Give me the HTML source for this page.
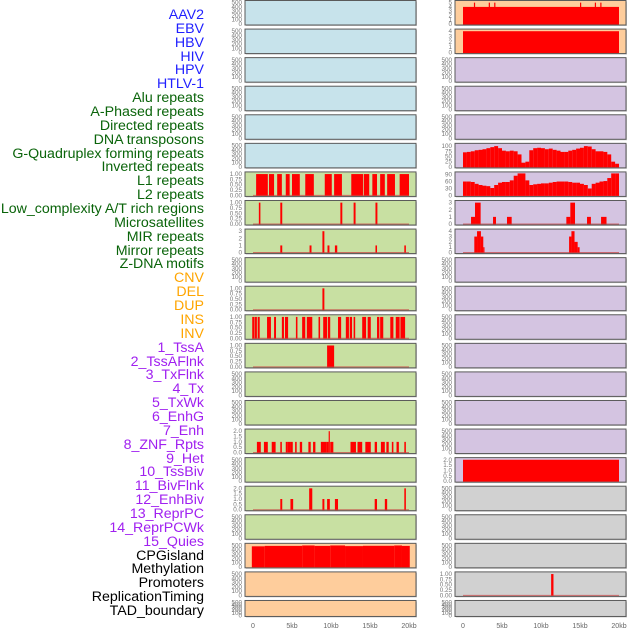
<!DOCTYPE html>
<html><head><meta charset="utf-8">
<style>
body{margin:0;background:#fff;width:630px;height:630px;overflow:hidden;font-family:"Liberation Sans",sans-serif;}
#labels{position:absolute;left:0;top:0;width:204px;}
.lab{position:absolute;right:0;font-size:14.2px;line-height:14px;white-space:nowrap;text-align:right;}
svg{position:absolute;left:0;top:0;}
</style></head><body>
<div id="labels"></div>
<svg id="chart" width="630" height="630"></svg>
<script>
const trackNames=["AAV2","EBV","HBV","HIV","HPV","HTLV-1","Alu repeats","A-Phased repeats","Directed repeats","DNA transposons","G-Quadruplex forming repeats","Inverted repeats","L1 repeats","L2 repeats","Low_complexity A/T rich regions","Microsatellites","MIR repeats","Mirror repeats","Z-DNA motifs","CNV","DEL","DUP","INS","INV","1_TssA","2_TssAFlnk","3_TxFlnk","4_Tx","5_TxWk","6_EnhG","7_Enh","8_ZNF_Rpts","9_Het","10_TssBiv","11_BivFlnk","12_EnhBiv","13_ReprPC","14_ReprPCWk","15_Quies","CPGisland","Methylation","Promoters","ReplicationTiming","TAD_boundary"];
const trackColors=["#1f1fff","#1f1fff","#1f1fff","#1f1fff","#1f1fff","#1f1fff","#0a640a","#0a640a","#0a640a","#0a640a","#0a640a","#0a640a","#0a640a","#0a640a","#0a640a","#0a640a","#0a640a","#0a640a","#0a640a","#ffa500","#ffa500","#ffa500","#ffa500","#ffa500","#a020f0","#a020f0","#a020f0","#a020f0","#a020f0","#a020f0","#a020f0","#a020f0","#a020f0","#a020f0","#a020f0","#a020f0","#a020f0","#a020f0","#a020f0","#000","#000","#000","#000","#000"];
const xTicks=[0,5,10,15,20];
const xTickLabels=["0","5kb","10kb","15kb","20kb"];
// segments [startKb, endKb, value]
const leftL1=[[0.4,1.9,1],[2.05,2.7,1],[3.1,3.7,1],[4.2,4.7,1],[5.0,6.0,1],[6.7,7.8,1],[9.2,10.1,1],[10.4,11.4,1],[12.6,14.1,1],[14.2,14.9,1],[15.3,15.9,1],[16.3,16.9,1],[17.2,18.2,1],[18.8,20,1]];
const leftLowComplex=[[0.75,0.95,1],[3.5,3.75,1],[11.2,11.45,1],[12.9,13.15,1],[15.7,15.95,1]];
const leftMicro=[[3.5,3.75,1],[7.25,7.5,1],[8.9,9.15,3],[9.55,9.8,1],[10.5,10.8,1],[15.7,15.9,1],[19.4,19.6,1]];
const leftDEL=[[8.9,9.15,1]];
const leftINS=[[-0.1,0.2,1],[0.25,0.5,1],[0.6,0.86,1],[1.8,2.3,1],[2.7,2.95,1],[3.7,3.97,1],[4.1,4.5,1],[5.5,5.7,1],[6.3,6.7,1],[6.9,7.6,1],[8.4,8.6,1],[9.0,9.5,1],[9.6,9.9,1],[10.9,11.3,1],[11.9,12.3,1],[12.4,12.7,1],[12.9,13.1,1],[14.0,14.5,1],[14.7,15.1,1],[15.9,16.2,1],[16.3,16.7,1],[17.6,18.0,1],[18.3,18.8,1],[18.9,19.5,1]];
const leftINV=[[9.5,10.4,1]];
const leftZNF=[[0.5,1.0,1],[1.4,1.9,1],[2.4,2.9,1],[3.5,3.7,1],[4.2,4.4,1],[4.4,4.8,1],[4.8,5.1,1],[5.4,5.6,1],[6.0,6.3,1],[7.1,7.4,1],[7.7,8.0,1],[8.7,9.4,1],[9.4,9.7,1],[9.7,9.85,2],[9.9,10.3,1],[12.5,13.2,1],[13.4,14.0,1],[14.4,15.1,1],[15.6,15.9,1],[16.4,16.9,1],[17.1,17.4,1],[17.8,18.0,1],[18.4,18.7,1],[19.4,19.6,1]];
const leftBiv=[[3.5,3.75,1],[4.8,5.15,1],[7.2,7.6,2],[8.9,9.15,1],[9.5,9.85,1],[10.5,10.9,1],[15.6,15.9,1],[16.9,17.2,1],[19.4,19.6,2]];
const leftCpG=[[-0.15,1.5,480],[1.5,6.3,490],[6.3,7.9,500],[7.9,9.9,490],[9.9,11.8,500],[11.8,14.1,485],[14.1,18.1,492],[18.1,19.1,500],[19.1,20.1,490]];
const rightAAV2=[[0,20,4],[1.4,1.55,5],[3.3,3.45,5],[4.0,4.15,5],[15.0,15.15,5],[16.9,17.05,5],[17.6,17.75,5]];
const rightEBV=[[0,20,4]];
const rightGquadBins=[70,72,75,80,82,85,90,95,100,90,78,75,78,75,60,20,25,80,90,92,90,85,88,82,78,72,72,78,82,88,92,100,98,85,75,75,72,60,25,15];
const rightL2Bins=[60,60,58,50,45,42,40,32,45,55,58,58,65,85,110,105,65,45,48,50,52,52,55,58,60,60,60,58,55,55,50,45,30,50,55,60,62,75,110,110];
const rightLowComplex=[[1.03,1.54,1],[1.54,2.26,3],[3.85,4.23,1],[5.64,6.24,1],[13.25,13.76,1],[13.76,14.36,3],[15.9,16.4,1],[17.7,18.4,1]];
const rightMicro=[[1.45,1.8,3],[1.8,2.3,4],[2.3,2.6,3],[2.6,2.75,1],[13.6,13.9,3],[13.9,14.3,4],[14.3,14.7,2],[14.7,14.95,1]];
const rightTssBiv=[[0,20,2]];
const rightPromoter=[[11.3,11.6,1]];

const T500=[0,100,200,300,400,500],T1=[0,0.25,0.5,0.75,1],T2=[0,0.5,1,1.5,2],T3=[0,1,2,3],T4=[0,1,2,3,4],T5=[0,1,2,3,4,5];
const BLUE="#c7e3eb",GREEN="#c8e0a2",ORANGE="#fecd9c",PURPLE="#d4c4e1",GRAY="#d1d1d1";
function bins(a){return a.map((v,i)=>[i*0.5,i*0.5+0.5,v]);}
const leftPanels=[];
for(let i=0;i<6;i++)leftPanels.push({bg:BLUE,t:T500});
leftPanels.push({bg:GREEN,t:T1,d:leftL1});
leftPanels.push({bg:GREEN,t:T1,d:leftLowComplex});
leftPanels.push({bg:GREEN,t:T3,d:leftMicro});
leftPanels.push({bg:GREEN,t:T500});
leftPanels.push({bg:GREEN,t:T1,d:leftDEL});
leftPanels.push({bg:GREEN,t:T1,d:leftINS});
leftPanels.push({bg:GREEN,t:T1,d:leftINV});
leftPanels.push({bg:GREEN,t:T500});leftPanels.push({bg:GREEN,t:T500});
leftPanels.push({bg:GREEN,t:T2,d:leftZNF});
leftPanels.push({bg:GREEN,t:T500});
leftPanels.push({bg:GREEN,t:T2,d:leftBiv});
leftPanels.push({bg:GREEN,t:T500});
leftPanels.push({bg:ORANGE,t:T500,d:leftCpG,nobase:true});
leftPanels.push({bg:ORANGE,t:T500});
leftPanels.push({bg:ORANGE,t:T500});
const rightPanels=[{bg:ORANGE,t:T5,d:rightAAV2,nobase:true},{bg:ORANGE,t:T4,d:rightEBV,nobase:true}];
for(let i=0;i<3;i++)rightPanels.push({bg:PURPLE,t:T500});
rightPanels.push({bg:PURPLE,t:[0,25,50,75,100],max:106,d:bins(rightGquadBins),nobase:true});
rightPanels.push({bg:PURPLE,t:[0,30,60,90],max:95,d:bins(rightL2Bins),nobase:true});
rightPanels.push({bg:PURPLE,t:T3,d:rightLowComplex});
rightPanels.push({bg:PURPLE,t:T4,d:rightMicro});
for(let i=0;i<7;i++)rightPanels.push({bg:PURPLE,t:T500});
rightPanels.push({bg:PURPLE,t:T2,d:rightTssBiv,nobase:true});
for(let i=0;i<3;i++)rightPanels.push({bg:GRAY,t:T500});
rightPanels.push({bg:GRAY,t:T1,d:rightPromoter});
rightPanels.push({bg:GRAY,t:T500});

const NS="http://www.w3.org/2000/svg";
const svg=document.getElementById('chart');
function mk(tag,attrs,parent){const e=document.createElementNS(NS,tag);for(const k in attrs)e.setAttribute(k,attrs[k]);(parent||svg).appendChild(e);return e;}
const labels=document.getElementById('labels');
trackNames.forEach((n,i)=>{const d=document.createElement('div');d.className='lab';d.textContent=n;d.style.color=trackColors[i];d.style.top=(8+i*13.86)+'px';


labels.appendChild(d);});
function fmt(v,t){const mx=t[t.length-1];if(mx===1)return v.toFixed(2);if(mx===2)return v.toFixed(1);return String(v);}
function drawPanel(p,idx,side){
  const px=side==='left'?245:455, pw=171, x0=px+8, sx=7.8;
  const top=0.5+idx*28.57, h=idx===21?16:24.5;
  const g=mk('g',{});
  
  
  mk('rect',{x:px+1,y:top+1,width:pw,height:h,fill:'#999',opacity:0.5},g);
  mk('rect',{x:px,y:top,width:pw,height:h,fill:p.bg,stroke:'#5a5a5a','stroke-width':1},g);
  const tmax=p.t[p.t.length-1], ymax=p.max||tmax*1.03;
  const xs=v=>x0+v*sx;
  const ys=v=>top+h-1-Math.min(v,ymax)/ymax*(h-2.5);
  p.t.forEach(v=>{const t=mk('text',{x:px-3,y:ys(v)+2,'font-size':6.3,fill:'#777','text-anchor':'end'},g);t.textContent=fmt(v,p.t);
    
    });
  if(p.d){
    p.d.forEach(s=>{const a=Math.max(xs(s[0]),px+0.5),b=Math.min(xs(s[1]),px+pw-0.5);
      const r=mk('rect',{x:a,y:ys(s[2]),width:Math.max(b-a,1.2),height:ys(0)-ys(s[2])+0.5,fill:'#ff0000'},g);
      
      });
    if(!p.nobase)mk('line',{x1:xs(0),x2:xs(20),y1:ys(0),y2:ys(0),stroke:'#c84040','stroke-width':1,opacity:0.7},g);
  }
  if(idx===21){xTicks.forEach((v,i)=>{const t=mk('text',{x:xs(v),y:628,'font-size':7,fill:'#666','text-anchor':'middle'},g);t.textContent=xTickLabels[i];
    
    });}
}
leftPanels.forEach((p,i)=>drawPanel(p,i,'left'));
rightPanels.forEach((p,i)=>drawPanel(p,i,'right'));
</script>
</body></html>
